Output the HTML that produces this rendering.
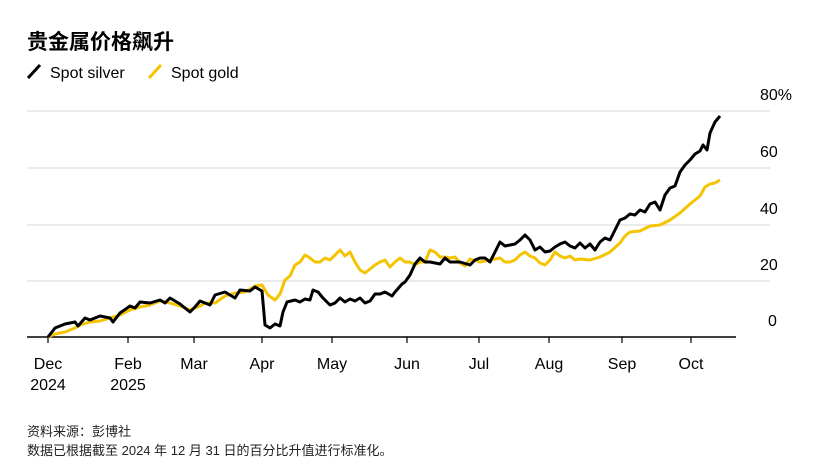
<!DOCTYPE html>
<html><head><meta charset="utf-8"><style>
html,body{margin:0;padding:0;background:#fff;width:826px;height:474px;overflow:hidden;font-family:"Liberation Sans","Noto Sans CJK SC",sans-serif;}
</style></head><body>
<svg width="826" height="474" xmlns="http://www.w3.org/2000/svg" font-family="Liberation Sans, Noto Sans CJK SC, sans-serif">
<text x="27" y="49" font-size="21" font-weight="bold" fill="#000">贵金属价格飙升</text>
<line x1="28" y1="78" x2="40" y2="65" stroke="#000" stroke-width="3"/>
<text x="50" y="78" font-size="16" fill="#000">Spot silver</text>
<line x1="149" y1="78" x2="161" y2="65" stroke="#f5c400" stroke-width="3"/>
<text x="171" y="78" font-size="16" fill="#000">Spot gold</text>
<g stroke="#ddd" stroke-width="1.2">
<line x1="27" y1="111" x2="770" y2="111"/>
<line x1="27" y1="168" x2="770" y2="168"/>
<line x1="27" y1="225" x2="770" y2="225"/>
<line x1="27" y1="281" x2="770" y2="281"/>
</g>
<g font-size="16" fill="#000">
<text x="760" y="100">80%</text><text x="760" y="157">60</text><text x="760" y="214">40</text><text x="760" y="270">20</text><text x="768" y="326">0</text>
</g>
<line x1="27" y1="337" x2="736" y2="337" stroke="#000" stroke-width="1.5"/>
<g stroke="#000" stroke-width="1.2">
<line x1="48" y1="337" x2="48" y2="343"/><line x1="128" y1="337" x2="128" y2="343"/><line x1="194" y1="337" x2="194" y2="343"/><line x1="262" y1="337" x2="262" y2="343"/><line x1="332" y1="337" x2="332" y2="343"/><line x1="407" y1="337" x2="407" y2="343"/><line x1="479" y1="337" x2="479" y2="343"/><line x1="549" y1="337" x2="549" y2="343"/><line x1="622" y1="337" x2="622" y2="343"/><line x1="691" y1="337" x2="691" y2="343"/>
</g>
<g font-size="16" fill="#000" text-anchor="middle">
<text x="48" y="369">Dec</text><text x="48" y="390">2024</text>
<text x="128" y="369">Feb</text><text x="128" y="390">2025</text>
<text x="194" y="369">Mar</text><text x="262" y="369">Apr</text><text x="332" y="369">May</text><text x="407" y="369">Jun</text><text x="479" y="369">Jul</text><text x="549" y="369">Aug</text><text x="622" y="369">Sep</text><text x="691" y="369">Oct</text>
</g>
<polyline fill="none" stroke="#f5c400" stroke-width="3" stroke-linejoin="round" points="48,337 55,334 65,332 75,328 80,325 90,322 100,321 110,318 120,315 130,310 140,307 150,305 160,301 170,303 180,306 190,310 200,306 205,303 215,303 225,296 235,293 245,292 255,286 262,285 268,295 275,300 280,294 285,280 290,276 295,265 300,262 305,255 310,258 315,262 320,262 325,258 330,260 340,250 345,256 350,252 355,262 360,270 365,273 370,269 375,265 380,262 385,260 390,267 395,262 400,258 405,262 410,262 415,265 420,262 425,262 430,250 435,252 440,257 445,257 450,258 455,257 460,263 465,266 470,259 480,262 490,260 500,258 505,262 510,262 515,260 520,255 525,252 530,256 535,258 540,263 545,265 550,260 555,252 560,256 565,258 570,256 575,260 580,259 590,260 600,257 610,252 620,243 625,236 630,232 640,231 650,226 660,225 670,220 680,213 690,204 700,196 705,187 710,184 715,183 720,180"/>
<polyline fill="none" stroke="#000" stroke-width="3" stroke-linejoin="round" points="48,337 55,328 65,324 75,322 78,326 85,318 90,320 100,316 110,318 113,322 120,313 130,306 135,308 140,302 150,303 160,300 165,303 170,298 180,304 185,308 190,312 195,307 200,301 210,305 215,295 225,292 230,295 235,298 240,290 250,291 255,287 262,291 265,325 270,328 275,324 280,326 283,312 287,302 295,300 300,302 305,299 310,300 313,290 318,292 323,298 330,305 335,303 340,298 345,302 350,299 355,301 360,298 365,303 370,301 375,294 380,294 385,292 392,296 395,292 402,284 405,282 410,275 415,264 420,258 425,262 430,262 440,264 445,258 450,262 460,262 470,265 475,260 480,258 485,258 490,262 495,252 500,242 505,246 510,245 515,244 520,240 525,235 530,240 535,250 540,247 545,252 550,251 555,247 560,244 565,242 570,246 575,248 580,243 585,248 590,244 595,250 600,242 605,238 610,240 615,230 620,220 625,218 630,214 635,215 640,210 645,212 650,204 655,202 660,210 665,195 670,188 675,186 680,172 685,165 690,160 695,154 700,151 703,145 707,150 710,133 715,122 720,116"/>
<text x="27" y="436" font-size="13" fill="#222">资料来源：彭博社</text>
<text x="27" y="455" font-size="13" fill="#222">数据已根据截至 2024 年 12 月 31 日的百分比升值进行标准化。</text>
</svg>
</body></html>
